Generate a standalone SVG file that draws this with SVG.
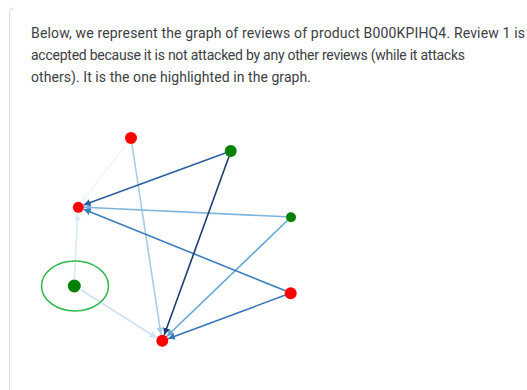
<svg xmlns="http://www.w3.org/2000/svg" width="527" height="390" viewBox="0 0 527 390">
<style>
.t{font-family:Roboto,"Open Sans",sans-serif;font-size:14px;fill:#3c4043}
.e{fill:none;stroke-width:1.6}
</style>
<defs>
<marker id="m1" markerUnits="userSpaceOnUse" markerWidth="8" markerHeight="8" refX="7" refY="3.5" orient="auto"><path d="M0,0 L7,3.5 L0,7 z" fill="#2c5f9e"/></marker>
<marker id="m2" markerUnits="userSpaceOnUse" markerWidth="8" markerHeight="8" refX="7" refY="3.5" orient="auto"><path d="M0,0 L7,3.5 L0,7 z" fill="#1c3f72"/></marker>
<marker id="m3" markerUnits="userSpaceOnUse" markerWidth="8" markerHeight="8" refX="7" refY="3.5" orient="auto"><path d="M0,0 L7,3.5 L0,7 z" fill="#7fb5dc"/></marker>
<marker id="m4" markerUnits="userSpaceOnUse" markerWidth="8" markerHeight="8" refX="7" refY="3.5" orient="auto"><path d="M0,0 L7,3.5 L0,7 z" fill="#65a6d3"/></marker>
<marker id="m5" markerUnits="userSpaceOnUse" markerWidth="8" markerHeight="8" refX="7" refY="3.5" orient="auto"><path d="M0,0 L7,3.5 L0,7 z" fill="#3b7fbc"/></marker>
<marker id="m6" markerUnits="userSpaceOnUse" markerWidth="8" markerHeight="8" refX="7" refY="3.5" orient="auto"><path d="M0,0 L7,3.5 L0,7 z" fill="#3777b8"/></marker>
<marker id="m7" markerUnits="userSpaceOnUse" markerWidth="8" markerHeight="8" refX="7" refY="3.5" orient="auto"><path d="M0,0 L7,3.5 L0,7 z" fill="#a6cde6"/></marker>
<marker id="m8" markerUnits="userSpaceOnUse" markerWidth="8" markerHeight="8" refX="7" refY="3.5" orient="auto"><path d="M0,0 L7,3.5 L0,7 z" fill="#f2f7fc"/></marker>
<marker id="m9" markerUnits="userSpaceOnUse" markerWidth="8" markerHeight="8" refX="7" refY="3.5" orient="auto"><path d="M0,0 L7,3.5 L0,7 z" fill="#dbe9f6"/></marker>
<marker id="m10" markerUnits="userSpaceOnUse" markerWidth="8" markerHeight="8" refX="7" refY="3.5" orient="auto"><path d="M0,0 L7,3.5 L0,7 z" fill="#cfe1f2"/></marker>
</defs>
<rect width="527" height="390" fill="#fff"/>
<path d="M9.5,390 V14 Q9.5,8 14,8" fill="none" stroke="#dadce0" stroke-width="1"/>
<g id="caption">
<text class="t" x="31" y="38" textLength="494" lengthAdjust="spacing">Below, we represent the graph of reviews of product B000KPIHQ4. Review 1 is</text>
<text class="t" x="31" y="60" textLength="434" lengthAdjust="spacing">accepted because it is not attacked by any other reviews (while it attacks</text>
<text class="t" x="31" y="82" textLength="280" lengthAdjust="spacing">others). It is the one highlighted in the graph.</text>
</g>
<g id="connectors">
<line class="e" x1="127.3" y1="142.8" x2="81.7" y2="202.2" stroke="#f2f7fc" marker-end="url(#m8)"/>
<line class="e" x1="74.3" y1="279" x2="77.7" y2="213.5" stroke="#dbe9f6" marker-end="url(#m9)"/>
<line class="e" x1="80.8" y1="289.7" x2="156.5" y2="337.8" stroke="#cfe1f2" marker-end="url(#m10)"/>
<line class="e" x1="131.9" y1="144" x2="161" y2="334.6" stroke="#a6cde6" marker-end="url(#m7)"/>
<line class="e" x1="286" y1="216.8" x2="84" y2="207.3" stroke="#7fb5dc" marker-end="url(#m3)"/>
<line class="e" x1="287.4" y1="220.5" x2="166.7" y2="336.5" stroke="#65a6d3" marker-end="url(#m4)"/>
<line class="e" x1="285.4" y1="290.8" x2="83.6" y2="209.2" stroke="#3b7fbc" marker-end="url(#m5)"/>
<line class="e" x1="285.4" y1="295.1" x2="168.1" y2="338.7" stroke="#3777b8" marker-end="url(#m6)"/>
<line class="e" x1="225.4" y1="153.1" x2="83.6" y2="204.9" stroke="#2c5f9e" marker-end="url(#m1)"/>
<line class="e" x1="229" y1="156.6" x2="164.2" y2="334.9" stroke="#1c3f72" marker-end="url(#m2)"/>
</g>
<g id="n1"><ellipse cx="75" cy="286" rx="33.5" ry="25" fill="none" stroke="#2db84d" stroke-width="1.5"/><circle cx="74.3" cy="286" r="6.5" fill="#008000"/></g>
<g id="n2"><circle cx="131" cy="138" r="6" fill="#ff0000"/></g>
<g id="n3"><circle cx="78.3" cy="207.3" r="5.5" fill="#ff0000"/></g>
<g id="n4"><circle cx="162.3" cy="340.7" r="6" fill="#ff0000"/></g>
<g id="n5"><circle cx="230.7" cy="151" r="6" fill="#008000"/></g>
<g id="n6"><circle cx="291" cy="217.3" r="5" fill="#008000"/></g>
<g id="n7"><circle cx="290.7" cy="293.3" r="6" fill="#ff0000"/></g>
</svg>
